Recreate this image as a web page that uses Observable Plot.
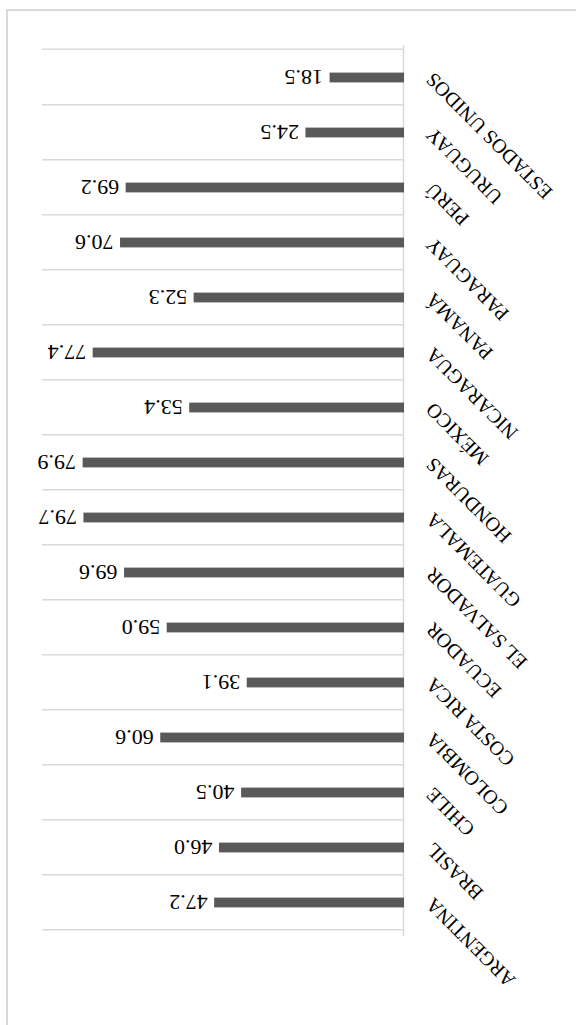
<!DOCTYPE html>
<html><head><meta charset="utf-8">
<script src="https://cdn.jsdelivr.net/npm/d3@7"></script>
<script src="https://cdn.jsdelivr.net/npm/@observablehq/plot@0.6"></script>
<style>
html,body{margin:0;padding:0;background:#fff;}
#wrap{position:relative;width:576px;height:1025px;overflow:hidden;transform:rotate(180deg);}
#wrap svg{position:absolute;left:0;top:0;}
#border{position:absolute;left:-10px;top:-10px;width:580px;height:1026px;border:2px solid #d9d9d9;box-sizing:border-box;pointer-events:none;z-index:2;}
</style></head><body>
<div id="wrap"></div>
<script>
const countries = ["ARGENTINA","BRASIL","CHILE","COLOMBIA","COSTA RICA","ECUADOR","EL SALVADOR","GUATEMALA","HONDURAS","MÉXICO","NICARAGUA","PANAMÁ","PARAGUAY","PERÚ","URUGUAY","ESTADOS UNIDOS"];
const values = [47.2,46.0,40.5,60.6,39.1,59.0,69.6,79.7,79.9,53.4,77.4,52.3,70.6,69.2,24.5,18.5];
const xDomain = [0, 90];

const data = countries.map((c, i) => ({country: c, value: values[i]}));
const H = 1025, mT = 89, mB = 45;
const bw = (H - mT - mB) / countries.length;
const barH = 10.5;
const grid = "#d9d9d9";

const chart = Plot.plot({
  width: 576, height: H,
  marginLeft: 172, marginRight: 42, marginTop: mT, marginBottom: mB,
  x: {domain: xDomain, axis: null},
  y: {domain: countries, axis: null, padding: 0},
  style: {background: "transparent", fontFamily: "'Liberation Serif', 'Times New Roman', serif"},
  marks: [
    Plot.ruleY(countries, {y: d => d, x1: xDomain[0], x2: xDomain[1], dy: -bw / 2, stroke: grid, strokeWidth: 1.5}),
    Plot.ruleY(countries.slice(-1), {y: d => d, x1: xDomain[0], x2: xDomain[1], dy: bw / 2, stroke: grid, strokeWidth: 1.5}),
    Plot.ruleX([0], {stroke: grid, strokeWidth: 1.5}),
    Plot.barX(data, {y: "country", x: "value", fill: "#595959", insetTop: (bw - barH) / 2, insetBottom: (bw - barH) / 2}),
    Plot.text(data, {y: "country", x: "value", text: d => d.value.toFixed(1), textAnchor: "start", dx: 6, fontSize: 22, fill: "#000"}),
    Plot.text(data, {y: "country", x: 0, text: "country", rotate: 45, textAnchor: "end", dx: -26, dy: 1, fontSize: 20, fill: "#000"})
  ]
});
const wrap = document.getElementById("wrap");
wrap.appendChild(chart);
const b = document.createElement("div");
b.id = "border";
wrap.appendChild(b);
</script>
</body></html>
